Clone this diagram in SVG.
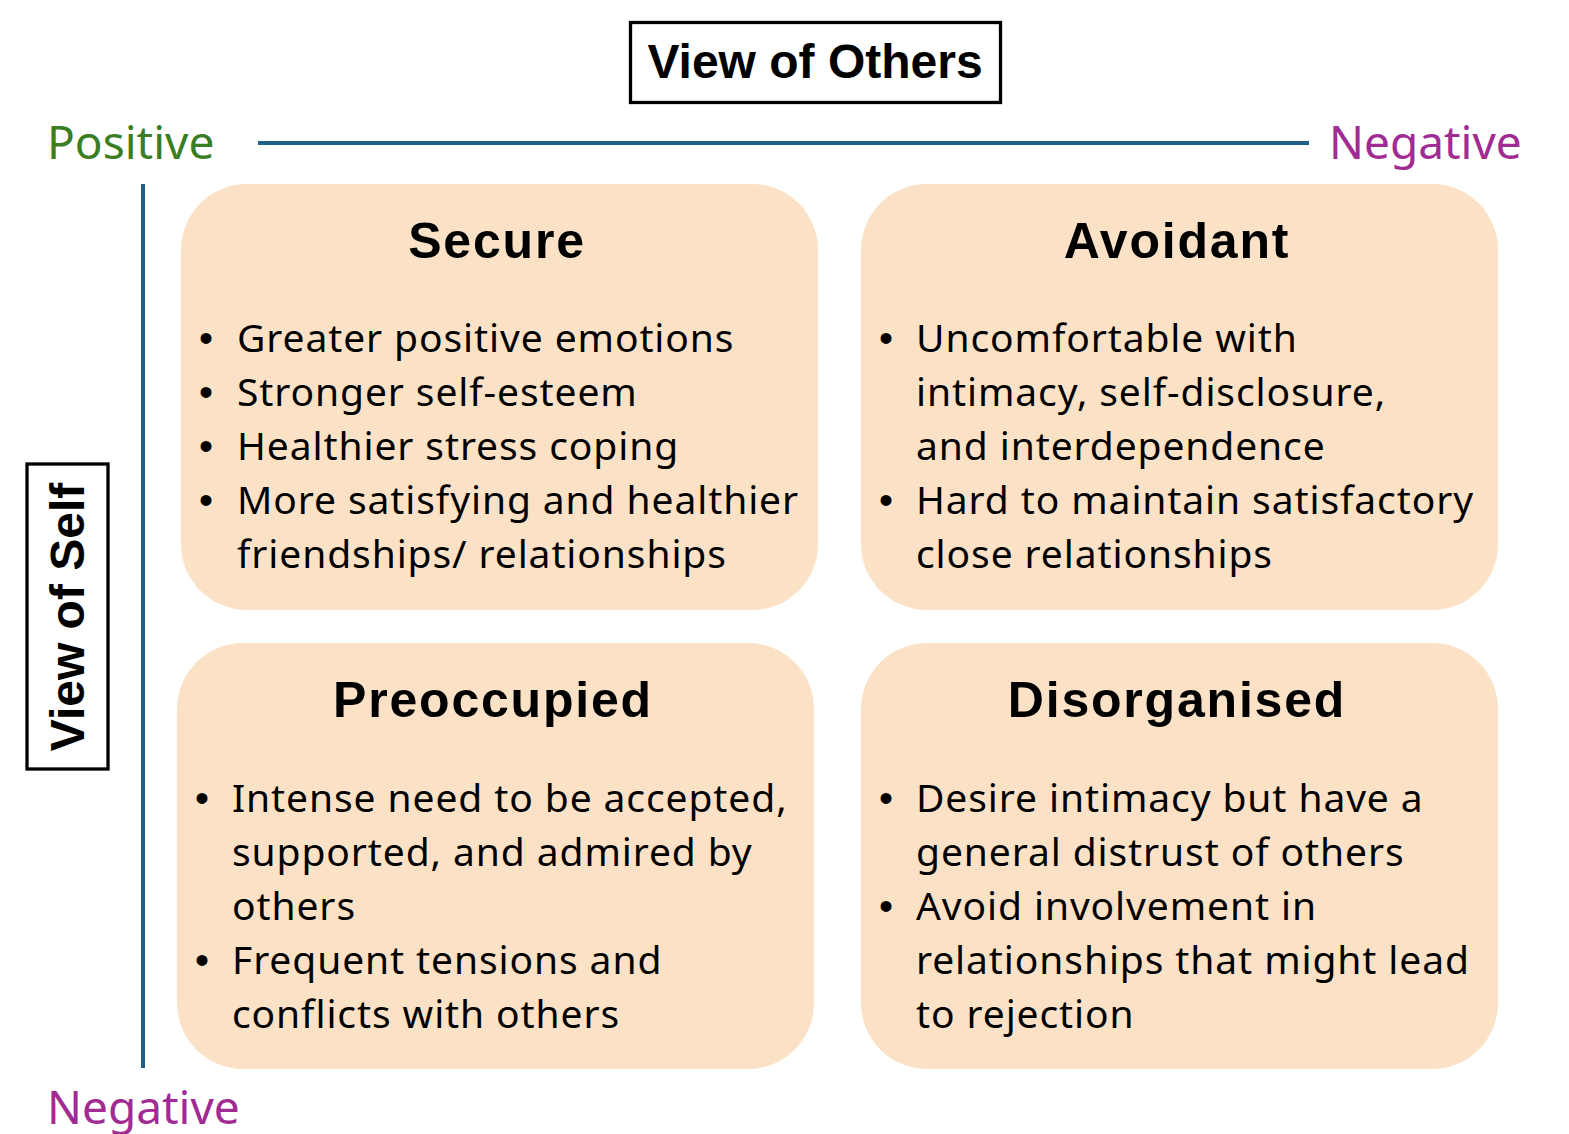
<svg xmlns="http://www.w3.org/2000/svg" width="1569" height="1134" viewBox="0 0 1569 1134">
<style>
.card{fill:#FBE2C7}
.title{font-family:"Liberation Sans",Arial,sans-serif;font-weight:bold;font-size:48px;fill:#000;text-anchor:middle}
.head{font-family:"Liberation Sans",Arial,sans-serif;font-weight:bold;font-size:50px;fill:#000;text-anchor:middle;letter-spacing:1.8px}
.body{font-family:"Noto Sans","Open Sans",sans-serif;font-size:39px;fill:#000;letter-spacing:0.9px}
.b{font-family:"Liberation Sans",Arial,sans-serif;font-size:40px;letter-spacing:0}
.lbl{font-family:"Noto Sans","Open Sans",sans-serif;font-size:46px}
.axis{stroke:#1F6087;stroke-width:4;fill:none}
.frame{fill:none;stroke:#000;stroke-width:3.3}
</style>
<rect width="1569" height="1134" fill="#fff"/>
<g id="connectors">
<line class="axis" x1="258" y1="143" x2="1309" y2="143"/>
<line class="axis" x1="143" y1="184" x2="143" y2="1068"/>
</g>
<g id="view-of-others">
<rect class="frame" x="630.5" y="22.5" width="370" height="80"/>
<text class="title" x="815" y="78">View of Others</text>
</g>
<g id="view-of-self">
<rect class="frame" x="27" y="464" width="81" height="305"/>
<text class="title" transform="translate(84,617) rotate(-90)" x="0" y="0">View of Self</text>
</g>
<g id="labels">
<text class="lbl" x="47" y="159" fill="#3B7D23">Positive</text>
<text class="lbl" x="1329" y="159" fill="#A02B93">Negative</text>
<text class="lbl" x="47" y="1124" fill="#A02B93">Negative</text>
</g>
<g id="secure">
<rect class="card" x="181" y="184" width="637" height="426" rx="66"/>
<text class="head" x="497" y="258">Secure</text>
<text class="body">
<tspan class="b" x="199" y="352">•</tspan><tspan x="237" y="352">Greater positive emotions</tspan>
<tspan class="b" x="199" y="406">•</tspan><tspan x="237" y="406">Stronger self-esteem</tspan>
<tspan class="b" x="199" y="460">•</tspan><tspan x="237" y="460">Healthier stress coping</tspan>
<tspan class="b" x="199" y="514">•</tspan><tspan x="237" y="514">More satisfying and healthier</tspan>
<tspan x="237" y="568">friendships/ relationships</tspan>
</text>
</g>
<g id="avoidant">
<rect class="card" x="861" y="184" width="637" height="426" rx="66"/>
<text class="head" x="1177" y="258">Avoidant</text>
<text class="body">
<tspan class="b" x="879" y="352">•</tspan><tspan x="916" y="352">Uncomfortable with</tspan>
<tspan x="916" y="406">intimacy, self-disclosure,</tspan>
<tspan x="916" y="460">and interdependence</tspan>
<tspan class="b" x="879" y="514">•</tspan><tspan x="916" y="514">Hard to maintain satisfactory</tspan>
<tspan x="916" y="568">close relationships</tspan>
</text>
</g>
<g id="preoccupied">
<rect class="card" x="177" y="643" width="637" height="426" rx="66"/>
<text class="head" x="493" y="717">Preoccupied</text>
<text class="body">
<tspan class="b" x="195" y="812">•</tspan><tspan x="232" y="812">Intense need to be accepted,</tspan>
<tspan x="232" y="866">supported, and admired by</tspan>
<tspan x="232" y="920">others</tspan>
<tspan class="b" x="195" y="974">•</tspan><tspan x="232" y="974">Frequent tensions and</tspan>
<tspan x="232" y="1028">conflicts with others</tspan>
</text>
</g>
<g id="disorganised">
<rect class="card" x="861" y="643" width="637" height="426" rx="66"/>
<text class="head" x="1177" y="717">Disorganised</text>
<text class="body">
<tspan class="b" x="879" y="812">•</tspan><tspan x="916" y="812">Desire intimacy but have a</tspan>
<tspan x="916" y="866">general distrust of others</tspan>
<tspan class="b" x="879" y="920">•</tspan><tspan x="916" y="920">Avoid involvement in</tspan>
<tspan x="916" y="974">relationships that might lead</tspan>
<tspan x="916" y="1028">to rejection</tspan>
</text>
</g>
</svg>
